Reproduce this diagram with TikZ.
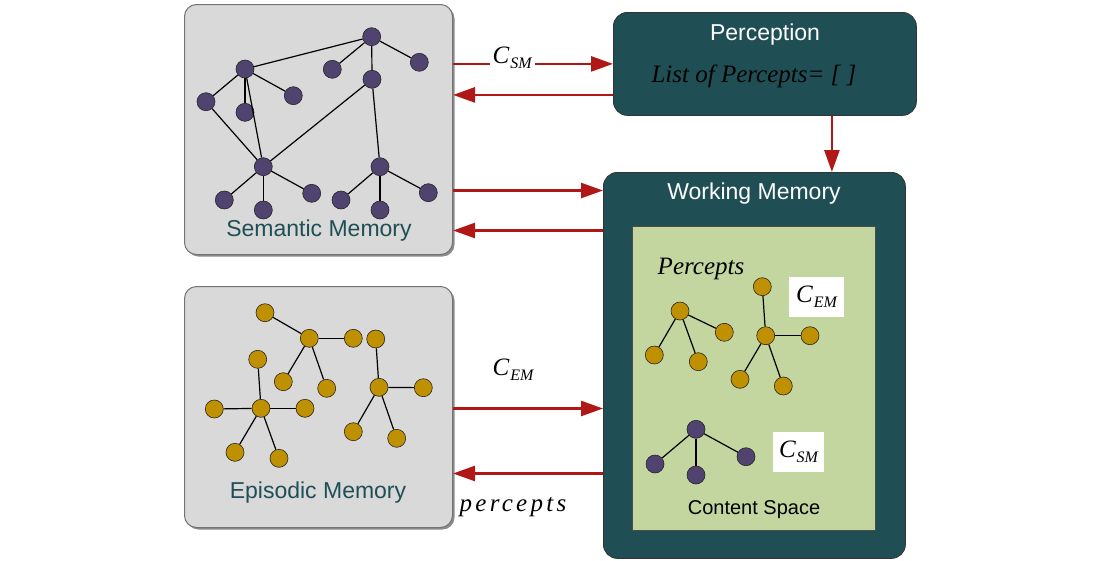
\documentclass[tikz,border=0pt]{standalone}
\usepackage{fontspec}
\setmainfont{Liberation Sans}
\newfontfamily\cambria{Liberation Serif}
\newfontfamily\cambriawide{Liberation Serif}[LetterSpace=13]
\usetikzlibrary{arrows.meta,shadows}

\definecolor{wmteal}{HTML}{1F4F55}
\definecolor{semdot}{HTML}{514370}
\definecolor{epidot}{HTML}{BF9000}
\definecolor{arrowred}{HTML}{B01717}
\definecolor{spacegreen}{HTML}{C4D6A0}
\definecolor{boxgray}{HTML}{D9D9D9}

% C with an italic subscript
\newcommand\memcode[1]{{\fontsize{25}{29}\selectfont\cambria\itshape
  C\kern1pt\raisebox{-5pt}{\fontsize{16}{18}\selectfont #1}}}

\begin{document}
\begin{tikzpicture}[
  x=1pt, y=-1pt,
  membox/.style={draw=black!55, line width=1pt, fill=boxgray,
                 rounded corners=12pt, anchor=north west, inner sep=0pt,
                 drop shadow={shadow xshift=2pt, shadow yshift=-2pt,
                              opacity=.45, fill=black}},
  tealbox/.style={draw=black!80, line width=.8pt, fill=wmteal,
                  rounded corners=14pt, anchor=north west, inner sep=0pt},
  spacebox/.style={draw=black!70, line width=1pt, fill=spacegreen,
                   anchor=north west, inner sep=0pt},
  title/.style={font=\fontsize{23}{27}\selectfont, text=white},
  memlabel/.style={font=\fontsize{23}{27}\selectfont, text=wmteal},
  codelbl/.style={inner sep=3pt},
  whitelbl/.style={fill=white, inner sep=0pt},
  sdot/.style={circle, draw=black!85, line width=.6pt, fill=semdot,
               minimum size=18pt, inner sep=0pt},
  edot/.style={circle, draw=black!85, line width=.6pt, fill=epidot,
               minimum size=18pt, inner sep=0pt},
  edge/.style={draw=black, line width=1.2pt},
  arr/.style={draw=arrowred, line width=2.5pt,
              -{Triangle[length=22pt,width=15pt]}},
]
\useasboundingbox (0,0) rectangle (1100,560);

% ── memory boxes ──────────────────────────────────────────────────────────────
\node[membox, minimum width=268, minimum height=250] (sem) at (184,4) {};
\node[membox, minimum width=268, minimum height=241] (epi) at (184,286) {};
\node[memlabel] (semlbl) at (319,231) {Semantic Memory};
\node[memlabel] (epilbl) at (318,493) {Episodic Memory};

% ── perception and working memory ─────────────────────────────────────────────
\node[tealbox, minimum width=303, minimum height=103] (per) at (613,12) {};
\node[title] (pertitle) at (765,35) {Perception};
\node[font=\fontsize{25}{29}\selectfont\cambria\itshape] (perlist) at (754,76)
  {List of Percepts= [ ]};

\node[tealbox, minimum width=302, minimum height=386] (wm) at (603,172) {};
\node[title] (wmtitle) at (754,194) {Working Memory};
\node[spacebox, minimum width=243, minimum height=304] (cs) at (632,226) {};
\node[font=\fontsize{20}{24}\selectfont] (cslbl) at (754,510) {Content Space};
\node[font=\fontsize{25}{29}\selectfont\cambria\itshape] (cslist) at (701,269)
  {Percepts};

% ── semantic graph ────────────────────────────────────────────────────────────
\foreach \n/\x/\y in {a/371.7/36.7, b/245/69, c/332.3/69.3, d/419.3/62.3,
    e/372/79.3, f/206/101.7, g/245/112.3, h/293.3/95.7, i/263.3/166.7,
    j/380/166.7, k/224.3/200, l/263.3/210, m/311.7/193.3, n/341/200,
    o/380/210, p/428.3/192.7}
  \node[sdot] (s\n) at (\x,\y) {};
\foreach \u/\v in {a/b, a/c, a/d, a/e, b/f, b/g, b/h, b/i, f/i, e/i, e/j,
    i/k, i/l, i/m, j/n, j/o, j/p}
  \draw[edge] (s\u) -- (s\v);

% ── episodic graph ────────────────────────────────────────────────────────────
\foreach \n/\x/\y in {a/265/312.7, b/309.3/338.3, c/353.3/338.3, d/375.7/339,
    e/257.7/359.3, f/283.3/381.7, g/326.7/388.3, h/379/387.3, i/423.3/387.7,
    j/214.3/409, k/261/408.3, l/305/408.3, m/353.3/431.7, n/396.7/438.3,
    o/235/452.3, p/279/458.3}
  \node[edot] (e\n) at (\x,\y) {};
\foreach \u/\v in {a/b, b/c, b/f, b/g, d/h, h/i, h/m, h/n, e/k, k/j, k/l,
    k/o, k/p}
  \draw[edge] (e\u) -- (e\v);

% ── content space graphs ──────────────────────────────────────────────────────
\foreach \n/\x/\y in {a/680/311, b/724.3/332.3, c/654.3/355, d/698.3/361.7,
    e/762.3/286.7, f/765.7/335.7, g/810/335.7, h/740/379.3, i/783.3/386}
  \node[edot] (c\n) at (\x,\y) {};
\foreach \u/\v in {a/b, a/c, a/d, f/e, f/g, f/h, f/i}
  \draw[edge] (c\u) -- (c\v);

\foreach \n/\x/\y in {a/696/429.3, b/655/464, c/696/475, d/746/456.7}
  \node[sdot] (w\n) at (\x,\y) {};
\foreach \u/\v in {a/b, a/c, a/d}
  \draw[edge] (w\u) -- (w\v);

\node[whitelbl, minimum width=55, minimum height=40] (cem) at (816.5,297)
  {\memcode{EM}};
\node[whitelbl, minimum width=51, minimum height=40] (csm) at (798.5,452)
  {\memcode{SM}};

% ── arrows ────────────────────────────────────────────────────────────────────
\draw[arr] (sem.east |- per.west) --
  node[pos=.37, fill=white, codelbl, yshift=6pt] (csmlbl) {\memcode{SM}} (per.west);
\coordinate (perback) at ([yshift=-31pt]per.west);
\draw[arr] (perback) -- (perback -| sem.east);

\coordinate (perdown) at ([xshift=67pt]per.south);
\draw[arr] (perdown) -- (perdown |- wm.north);

\coordinate (semout) at ([yshift=-61pt]sem.east);
\draw[arr] (semout) -- (semout -| wm.west);
\coordinate (semin) at ([yshift=-101pt]sem.east);
\draw[arr] (semin -| wm.west) -- (semin);

\coordinate (epiout) at ([yshift=-1.5pt]epi.east);
\draw[arr] (epiout) --
  node[pos=.4, above=24pt, codelbl] (cemlbl) {\memcode{EM}} (epiout -| wm.west);
\coordinate (epiin) at ([yshift=-66.5pt]epi.east);
\draw[arr] (epiin -| wm.west) --
  node[pos=.6, below=19pt, font=\fontsize{25}{29}\selectfont\cambriawide\itshape]
  (perclbl) {percepts} (epiin);

\end{tikzpicture}
\end{document}
